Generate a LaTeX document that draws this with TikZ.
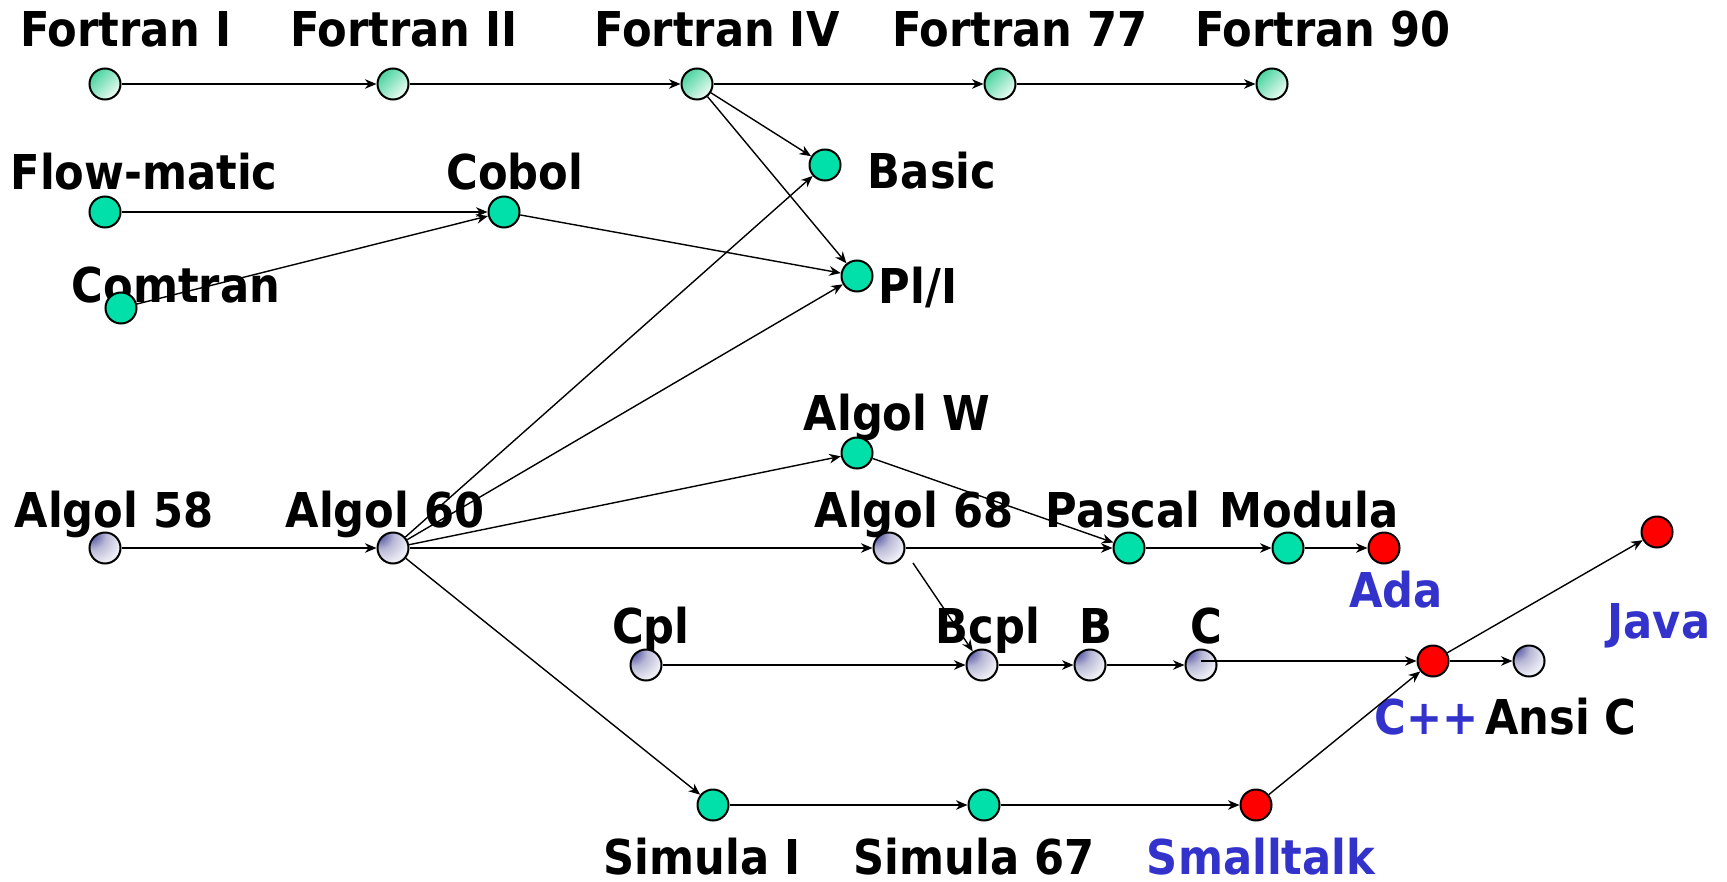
\documentclass[tikz,border=0pt]{standalone}
\usepackage{fontspec}
\usepackage{xcolor}
\usepackage{tikz}
\usetikzlibrary{arrows.meta,calc}
\newfontfamily\langfont{DejaVu Sans Condensed}

\definecolor{dotgreen}{RGB}{0,224,168}
\definecolor{fortgreen}{RGB}{72,212,158}
\definecolor{fortlight}{RGB}{240,252,246}
\definecolor{algoldark}{RGB}{100,100,170}
\definecolor{algolmid}{RGB}{184,184,214}
\definecolor{algollight}{RGB}{236,236,244}
\definecolor{newblue}{RGB}{51,51,204}

\pgfdeclareradialshading{algolball}{\pgfpoint{-26bp}{26bp}}{color(0bp)=(algoldark); color(9bp)=(algoldark); color(22bp)=(algolmid); color(40bp)=(algollight); color(100bp)=(algollight)}

\begin{document}
\begin{tikzpicture}[x=0.5pt,y=-0.5pt,
    lang/.style={circle, draw, line width=1pt, minimum size=15.5pt, inner sep=0pt},
    fortdot/.style={lang, top color=fortgreen, bottom color=fortlight, shading angle=45},
    plaindot/.style={lang, fill=dotgreen},
    algoldot/.style={lang, shading=algolball},
    newdot/.style={lang, fill=red},
    lbl/.style={anchor=base, inner sep=0pt, font=\langfont\bfseries\fontsize{24pt}{28pt}\selectfont},
    newlbl/.style={lbl, text=newblue},
    arr/.style={-{Stealth[length=5.8pt,width=4.8pt]}, line width=0.7pt}]
    \useasboundingbox (0,0) rectangle (1727,882);

    % labels
    \node[lbl] (t-fortran1) at (126,47) {Fortran I};
    \node[lbl] (t-fortran2) at (404,47) {Fortran II};
    \node[lbl] (t-fortran4) at (717,47) {Fortran IV};
    \node[lbl] (t-fortran77) at (1020,47) {Fortran 77};
    \node[lbl] (t-fortran90) at (1323,47) {Fortran 90};
    \node[lbl] (t-flowmatic) at (144,190) {Flow-matic};
    \node[lbl] (t-cobol) at (515,190) {Cobol};
    \node[lbl] (t-comtran) at (176,302) {Comtran};
    \node[lbl] (t-basic) at (932,189) {Basic};
    \node[lbl] (t-pli) at (918,303) {Pl/I};
    \node[lbl] (t-algolw) at (897,430) {Algol W};
    \node[lbl] (t-algol58) at (114,527) {Algol 58};
    \node[lbl] (t-algol60) at (385,527) {Algol 60};
    \node[lbl] (t-algol68) at (914,527) {Algol 68};
    \node[lbl] (t-pascal) at (1123,527) {Pascal};
    \node[lbl] (t-modula) at (1309,527) {Modula};
    \node[newlbl] (t-ada) at (1396,607) {Ada};
    \node[newlbl] (t-java) at (1659,638) {Java};
    \node[lbl] (t-cpl) at (651,643) {Cpl};
    \node[lbl] (t-bcpl) at (988,643) {Bcpl};
    \node[lbl] (t-b) at (1096,643) {B};
    \node[lbl] (t-c) at (1206,643) {C};
    \node[newlbl] (t-cpp) at (1427,734) {C++};
    \node[lbl] (t-ansic) at (1561,734) {Ansi C};
    \node[lbl] (t-simula1) at (702,874) {Simula I};
    \node[lbl] (t-simula67) at (974,874) {Simula 67};
    \node[newlbl] (t-smalltalk) at (1261,874) {Smalltalk};

    % languages
    \node[fortdot] (fortran1) at (105,84) {};
    \node[fortdot] (fortran2) at (393,84) {};
    \node[fortdot] (fortran4) at (697,84) {};
    \node[fortdot] (fortran77) at (1000,84) {};
    \node[fortdot] (fortran90) at (1272,84) {};
    \node[plaindot] (basic) at (825,165) {};
    \node[plaindot] (flowmatic) at (105,212) {};
    \node[plaindot] (cobol) at (504,212) {};
    \node[plaindot] (comtran) at (121,308) {};
    \node[plaindot] (pli) at (857,276) {};
    \node[plaindot] (algolw) at (857,453) {};
    \node[algoldot] (algol58) at (105,548) {};
    \node[algoldot] (algol60) at (393,548) {};
    \node[algoldot] (algol68) at (889,548) {};
    \node[plaindot] (pascal) at (1129,548) {};
    \node[plaindot] (modula) at (1288,548) {};
    \node[newdot] (ada) at (1384,548) {};
    \node[newdot] (java) at (1657,532) {};
    \node[algoldot] (cpl) at (646,665) {};
    \node[algoldot] (bcpl) at (982,665) {};
    \node[algoldot] (b) at (1090,665) {};
    \node[algoldot] (c) at (1201,665) {};
    \node[newdot] (cpp) at (1433,661) {};
    \node[algoldot] (ansic) at (1529,661) {};
    \node[plaindot] (simula1) at (713,805) {};
    \node[plaindot] (simula67) at (984,805) {};
    \node[newdot] (smalltalk) at (1256,805) {};
    \coordinate (a68tail) at ($(algol68)+(24,15)$);

    % influences
    \draw[arr] (fortran1) -- (fortran2);
    \draw[arr] (fortran2) -- (fortran4);
    \draw[arr] (fortran4) -- (fortran77);
    \draw[arr] (fortran77) -- (fortran90);
    \draw[arr] (fortran4) -- (basic);
    \draw[arr] (fortran4) -- (pli);
    \draw[arr] (flowmatic) -- (cobol);
    \draw[arr] (comtran) -- (cobol);
    \draw[arr] (cobol) -- (pli);
    \draw[arr] (algol58) -- (algol60);
    \draw[arr] (algol60) -- (basic);
    \draw[arr] (algol60) -- (pli);
    \draw[arr] (algol60) -- (algolw);
    \draw[arr] (algol60) -- (algol68);
    \draw[arr] (algol60) -- (simula1);
    \draw[arr] (algolw) -- (pascal);
    \draw[arr] (algol68) -- (pascal);
    \draw[arr] (pascal) -- (modula);
    \draw[arr] (modula) -- (ada);
    \draw[arr] (a68tail) -- (bcpl);
    \draw[arr] (cpl) -- (bcpl);
    \draw[arr] (bcpl) -- (b);
    \draw[arr] (b) -- (c);
    \draw[arr] (c.center |- cpp) -- (cpp);
    \draw[arr] (cpp) -- (ansic);
    \draw[arr] (cpp) -- (java);
    \draw[arr] (simula1) -- (simula67);
    \draw[arr] (simula67) -- (smalltalk);
    \draw[arr] (smalltalk) -- (cpp);
\end{tikzpicture}
\end{document}
